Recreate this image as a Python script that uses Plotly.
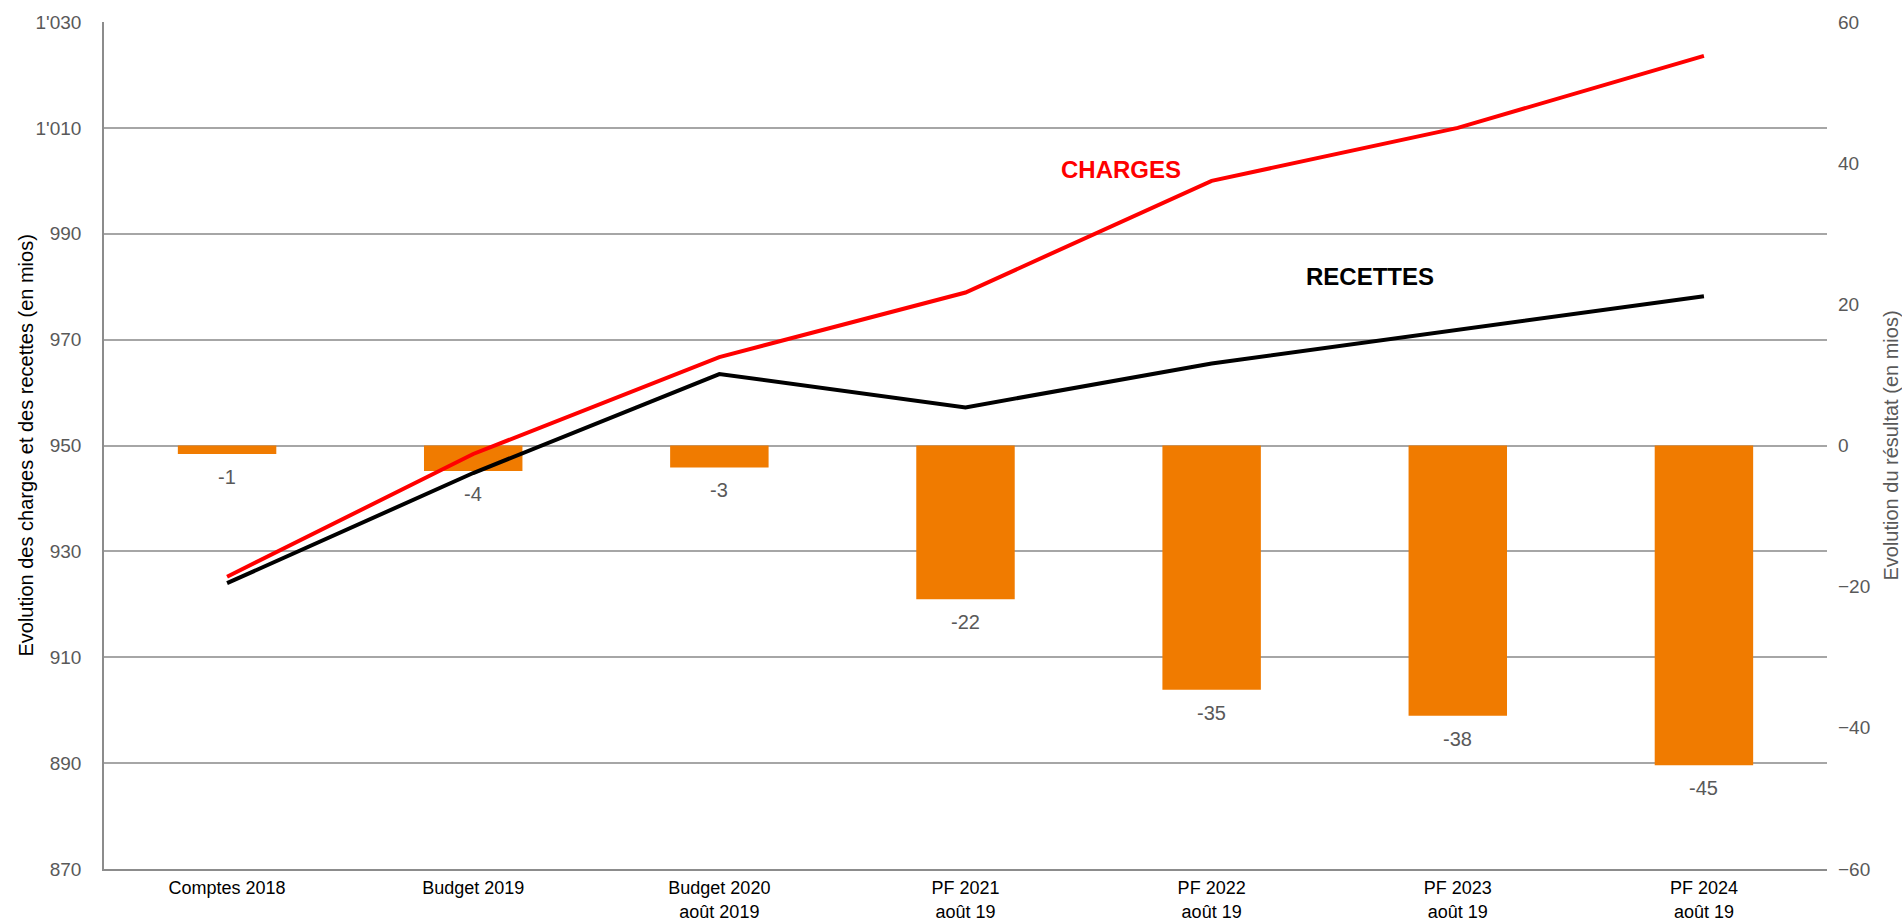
import plotly.graph_objects as go

categories = ["Comptes 2018", "Budget 2019", "Budget 2020<br>août 2019", "PF 2021<br>août 19",
              "PF 2022<br>août 19", "PF 2023<br>août 19", "PF 2024<br>août 19"]
charges = [925.2, 948.4, 966.7, 978.9, 1000.0, 1010.0, 1023.6]
recettes = [924.0, 944.8, 963.5, 957.2, 965.5, 971.8, 978.2]
resultat = [-1.2, -3.6, -3.1, -21.8, -34.6, -38.3, -45.3]
resultat_labels = ["-1", "-4", "-3", "-22", "-35", "-38", "-45"]

left_range = [870, 1030]
right_range = [-60, 60]

FONT = "Liberation Sans, Arial, sans-serif"
GRAY_TXT = "#595959"
GRID = "#A6A6A6"

fig = go.Figure()

# bars on primary (right-side) axis so lines overlay on top
fig.add_trace(go.Bar(
    x=categories, y=resultat, yaxis="y", marker=dict(color="#F07B00", line=dict(width=0)),
    width=0.4, showlegend=False, hoverinfo="skip"))

fig.add_trace(go.Scatter(
    x=categories, y=charges, yaxis="y2", mode="lines",
    line=dict(color="#FF0000", width=4), showlegend=False))
fig.add_trace(go.Scatter(
    x=categories, y=recettes, yaxis="y2", mode="lines",
    line=dict(color="#000000", width=4), showlegend=False))

annotations = []
for c, v, t in zip(categories, resultat, resultat_labels):
    annotations.append(dict(x=c, y=v, xref="x", yref="y", text=t, showarrow=False,
                            xanchor="center", yanchor="top", yshift=-10,
                            font=dict(family=FONT, size=20, color=GRAY_TXT)))

annotations.append(dict(x=0.590, y=0.826, xref="paper", yref="paper", text="<b>CHARGES</b>",
                        xanchor="center", yanchor="middle", showarrow=False,
                        font=dict(family=FONT, size=24, color="#FF0000")))
annotations.append(dict(x=0.735, y=0.700, xref="paper", yref="paper", text="<b>RECETTES</b>",
                        xanchor="center", yanchor="middle", showarrow=False,
                        font=dict(family=FONT, size=24, color="#000000")))

# axis titles
annotations.append(dict(x=-0.0458, y=0.5, xref="paper", yref="paper", textangle=-90,
                        text="Evolution des charges et des recettes (en mios)",
                        xanchor="center", yanchor="middle", showarrow=False,
                        font=dict(family=FONT, size=20, color="#000000")))
annotations.append(dict(x=1.0366, y=0.5, xref="paper", yref="paper", textangle=-90,
                        text="Evolution du résultat (en mios)",
                        xanchor="center", yanchor="middle", showarrow=False,
                        font=dict(family=FONT, size=20, color=GRAY_TXT)))

fig.update_layout(
    width=1902, height=924,
    margin=dict(l=104, r=75, t=22, b=55, autoexpand=False),
    paper_bgcolor="white", plot_bgcolor="white",
    separators=".'",
    font=dict(family=FONT, size=19, color=GRAY_TXT),
    xaxis=dict(
        type="category", range=[-0.5, 6.5], automargin=False,
        showline=True, linecolor="#8C8C8C", linewidth=1.5,
        showgrid=False, ticks="", ticklabelstandoff=2,
        tickfont=dict(family=FONT, size=18, color="#000000"),
    ),
    yaxis=dict(
        side="right", range=right_range, tick0=-60, dtick=20, showgrid=False, zeroline=False,
        showline=False, ticks="", ticklabelstandoff=10, automargin=False,
        tickfont=dict(family=FONT, size=19, color=GRAY_TXT),
    ),
    yaxis2=dict(
        side="left", overlaying="y", range=left_range, tick0=870, dtick=20, tickformat=",d",
        showgrid=True, gridcolor=GRID, gridwidth=1.5, zeroline=False,
        showline=True, linecolor="#8C8C8C", linewidth=1.5, automargin=False,
        ticks="", ticklabelstandoff=17,
        tickfont=dict(family=FONT, size=19, color=GRAY_TXT),
    ),
    annotations=annotations,
)

fig.write_html("out.html", config={"displayModeBar": False},
               post_script="document.body.style.margin='0';document.body.style.overflow='hidden';")
